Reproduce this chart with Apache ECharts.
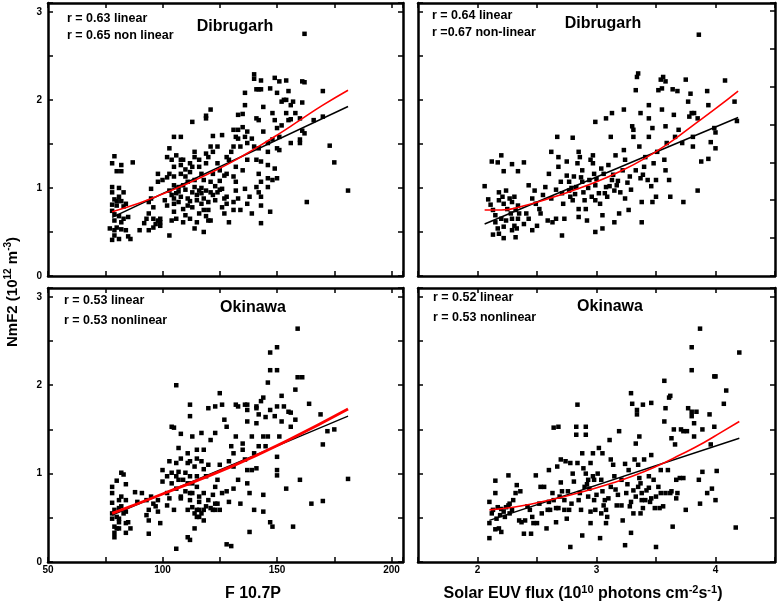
<!DOCTYPE html>
<html>
<head>
<meta charset="utf-8">
<script src="https://cdn.jsdelivr.net/npm/echarts@6/dist/echarts.min.js"></script>
<style>
  html, body { margin: 0; padding: 0; background: #fff; }
  #container { width: 778px; height: 607px; }
</style>
</head>
<body>
<div id="container"></div>
<script>
// ---- data ----
// Dibrugarh, NmF2 vs F10.7P
var dibF107 = [
  [79,1.36],[78,1.28],[82,1.26],[80,1.19],[82,1.19],[87,1.29],[78,1.01],[81,1.0],[83,0.95],[78,0.95],
  [79,0.87],[80,0.85],[81,0.9],[78,0.81],[80,0.8],[82,0.85],[83,0.79],[84,0.82],[78,0.74],[79,0.7],
  [81,0.68],[83,0.65],[85,0.67],[79,0.63],[82,0.61],[77,0.54],[79,0.52],[80,0.55],[82,0.53],[84,0.52],
  [79,0.46],[81,0.42],[85,0.45],[86,0.42],[78,0.41],
  [90,0.52],[92,0.6],[93,0.65],[94,0.71],[94,0.84],[95,0.88],[95,0.99],[96,0.78],[96,0.65],[97,0.59],
  [98,0.63],[99,0.61],[99,0.65],[99,0.57],[94,0.52],[96,0.55],[98,1.07],[100,1.09],[102,1.12],[98,1.16],[103,0.46],
  [102,1.35],[103,1.45],[105,1.58],[108,1.58],[104,1.32],[106,1.37],[108,1.32],[108,1.26],[105,1.24],[103,1.16],
  [105,1.13],[108,1.16],[110,1.13],[105,1.03],[107,1.01],[103,0.97],[104,0.92],[105,0.88],[108,0.9],[105,0.82],
  [107,0.84],[109,0.76],[105,0.73],[110,0.69],[104,0.63],[106,0.65],[109,0.61],[112,0.65],[111,0.88],[113,0.95],
  [111,1.07],[114,1.09],[112,1.18],[113,1.75],[112,1.28],[114,1.35],[114,1.41],[116,1.32],[116,1.24],[117,1.16],
  [118,1.09],[114,1.01],[116,0.97],[117,0.94],[119,0.97],[115,0.86],[117,0.82],[118,0.75],[116,0.71],[115,0.61],
  [114,0.54],[118,0.5],[120,0.63],[121,0.63],[120,0.75],[120,0.84],[122,0.92],[121,1.07],[122,1.16],[119,1.28],
  [120,1.35],[119,1.39],[122,1.41],[121,1.47],[122,1.59],[119,1.82],[119,1.79],[121,1.89],[124,1.47],[126,1.6],
  [124,1.28],[125,1.2],[127,1.14],[125,1.08],[126,0.99],[124,0.95],[127,0.88],[128,0.82],[126,0.78],[127,0.71],
  [129,0.61],[128,0.9],[128,1.16],[129,1.32],[128,1.35],[130,1.41],[131,1.47],[132,1.58],[131,1.66],[133,1.66],
  [133,1.56],[134,1.47],[132,1.24],[131,1.13],[132,1.07],[132,0.97],[133,0.88],[131,0.84],[134,0.75],[131,0.75],
  [135,1.69],[133,1.83],[135,1.84],[136,2.08],[136,1.94],[136,1.58],[137,1.64],[137,1.51],[137,1.32],[135,1.2],
  [136,0.99],[138,0.9],[137,0.82],[139,0.71],[139,1.56],[140,2.29],[140,2.24],[141,2.12],[142,2.12],[143,2.22],
  [141,1.79],[142,1.77],[144,1.92],[143,2.12],[140,1.47],[142,1.45],[141,1.32],[143,1.3],[142,1.16],[143,1.07],
  [141,1.01],[142,0.95],[143,0.9],[143,0.8],[143,0.6],[144,1.64],[146,1.51],[146,1.41],[146,1.26],[146,1.11],
  [146,1.01],[147,0.73],[147,2.13],[149,2.25],[150,2.08],[151,2.21],[148,1.85],[149,1.77],[150,1.68],[148,1.55],
  [151,1.58],[152,1.71],[150,1.45],[151,1.43],[149,1.22],[150,1.11],[148,1.09],[152,1.98],[153,2.0],[154,2.22],
  [154,2.0],[155,2.1],[154,1.85],[155,1.77],[156,1.78],[157,1.98],[156,1.94],[158,1.85],[160,1.79],[160,1.55],
  [160,1.51],[161,1.65],[156,1.51],[161,2.21],[162,2.2],[161,1.97],[162,1.62],[162,2.75],[163,0.84],[166,1.77],
  [170,2.1],[170,1.81],[173,1.48],[175,1.29],[181,0.97],
  [101,0.86],[102,0.8],[106,0.94],[107,0.96],[109,1.03],[110,0.98],[111,0.8],[112,0.85],[113,0.78],[115,0.92],
  [117,1.0],[118,0.88],[119,0.68],[121,0.95],[123,1.02],[123,0.86],[125,0.98],[110,1.21],[113,1.24],[109,1.32]
];
var dibF107Lin = [[78,0.665],[181,1.925]];
var dibF107Non = [[78,0.73],[90,0.83],[100,0.93],[110,1.04],[120,1.16],[130,1.29],[140,1.44],[150,1.6],[160,1.77],[170,1.94],[181,2.11]];

// Dibrugarh, NmF2 vs solar EUV flux
var dibEuv = [
  [2.06,1.02],[2.12,1.3],[2.2,1.37],[2.17,1.29],[2.22,1.19],[2.29,1.27],[2.34,1.19],[2.39,1.29],[2.09,0.87],[2.11,0.81],
  [2.13,0.75],[2.18,0.95],[2.21,0.9],[2.24,0.97],[2.18,0.86],[2.22,0.82],[2.27,0.88],[2.29,0.84],[2.31,0.9],[2.34,0.8],
  [2.25,0.76],[2.28,0.71],[2.32,0.75],[2.35,0.71],[2.15,0.69],[2.2,0.65],[2.24,0.63],[2.29,0.65],[2.34,0.65],[2.15,0.61],
  [2.17,0.54],[2.22,0.56],[2.31,0.57],[2.29,0.52],[2.33,0.54],[2.13,0.47],[2.18,0.48],[2.22,0.43],[2.32,0.44],[2.39,0.59],
  [2.43,0.65],[2.46,0.52],[2.41,0.71],[2.43,1.03],[2.48,0.97],[2.46,0.88],[2.49,0.82],[2.52,0.76],[2.5,0.57],[2.53,0.71],
  [2.55,0.92],[2.57,1.01],[2.59,0.63],[2.6,1.16],[2.62,1.41],[2.63,0.61],[2.66,0.65],[2.67,1.58],[2.68,1.35],[2.68,1.24],
  [2.7,1.07],[2.71,0.94],[2.71,0.46],[2.73,0.65],[2.75,1.3],[2.75,1.14],[2.77,1.07],[2.77,0.97],[2.78,0.9],[2.8,1.57],
  [2.8,0.86],[2.81,1.13],[2.83,1.01],[2.84,1.28],[2.85,1.41],[2.85,0.76],[2.85,0.67],[2.86,1.35],[2.88,1.2],[2.88,1.07],
  [2.89,0.95],[2.9,0.86],[2.91,0.76],[2.92,0.63],[2.94,1.09],[2.95,1.32],[2.97,1.37],[2.97,1.28],[2.98,1.16],[2.99,1.75],
  [2.99,1.03],[2.99,0.86],[2.99,0.5],[3.02,0.94],[3.03,0.82],[3.05,0.69],[3.05,0.54],[3.06,1.16],[3.08,1.79],[3.08,1.01],
  [3.09,0.9],[3.1,1.26],[3.12,1.58],[3.13,1.85],[3.13,1.09],[3.15,0.97],[3.15,0.61],[3.16,1.37],[3.17,1.03],[3.19,0.71],
  [3.22,1.2],[3.23,1.89],[3.23,1.43],[3.24,1.32],[3.24,0.88],[3.27,0.75],[3.28,1.13],[3.3,1.7],[3.31,1.66],[3.31,1.58],
  [3.33,2.11],[3.34,2.26],[3.35,2.3],[3.36,1.47],[3.37,1.85],[3.37,1.11],[3.38,0.84],[3.38,0.61],[3.4,1.24],[3.41,1.35],
  [3.43,1.09],[3.44,1.58],[3.44,1.94],[3.44,1.79],[3.47,1.68],[3.47,0.84],[3.48,1.28],[3.5,1.09],[3.5,0.9],[3.51,1.41],
  [3.52,2.11],[3.54,2.23],[3.55,2.13],[3.56,2.26],[3.58,2.21],[3.55,1.89],[3.58,1.7],[3.59,1.51],[3.57,1.32],[3.58,1.2],
  [3.61,1.09],[3.62,0.9],[3.64,2.12],[3.65,1.83],[3.66,1.58],[3.68,2.1],[3.69,1.66],[3.72,1.51],[3.73,0.84],[3.75,2.23],
  [3.77,1.98],[3.78,1.81],[3.79,2.07],[3.8,1.85],[3.81,1.58],[3.81,1.47],[3.82,1.85],[3.85,0.97],[3.85,1.79],[3.86,2.74],
  [3.88,1.3],[3.93,2.1],[3.94,1.94],[3.94,1.33],[3.96,1.52],[3.99,1.68],[4.0,1.63],[4.0,1.45],[4.08,2.22],[4.16,1.98],[4.18,1.76],
  [2.62,0.88],[2.66,0.98],[2.72,0.82],[2.79,1.0],[2.82,0.93],[2.87,1.12],[2.93,1.0],[2.96,0.9],[3.0,1.1],[3.04,1.22],
  [3.07,0.94],[3.11,1.02],[3.14,1.15],[3.18,1.08],[3.2,0.95],[3.26,1.06],[3.29,0.98],[3.33,1.2],[3.39,1.15],[3.46,1.02]
];
var dibEuvLin = [[2.06,0.59],[4.19,1.8]];
var dibEuvNon = [[2.06,0.75],[2.2,0.75],[2.4,0.8],[2.6,0.88],[2.8,0.97],[3.0,1.07],[3.2,1.19],[3.4,1.33],[3.6,1.5],[3.8,1.7],[4.0,1.9],[4.19,2.1]];

// Okinawa, NmF2 vs F10.7P
var okiF107 = [
  [78,0.85],[78,0.78],[80,0.92],[82,1.01],[83,0.99],[84,0.88],[78,0.67],[81,0.7],[82,0.74],[84,0.7],
  [79,0.59],[81,0.61],[82,0.63],[83,0.55],[80,0.51],[81,0.49],[84,0.57],[85,0.45],[79,0.4],[80,0.38],
  [81,0.38],[79,0.33],[79,0.28],[84,0.33],[86,0.38],[84,0.44],[78,0.55],[78,0.49],[81,0.45],
  [88,0.79],[89,0.68],[91,0.78],[93,0.7],[94,0.59],[93,0.53],[94,0.47],[94,0.32],[95,0.74],[96,0.66],
  [97,0.63],[98,0.57],[99,0.44],[98,0.7],[100,1.04],[100,0.91],[102,0.78],[102,0.64],[103,1.14],[104,1.01],
  [104,0.89],[104,1.53],[105,1.52],[106,0.15],[106,0.97],[106,0.83],[106,2.0],[106,1.12],[107,1.29],[107,1.02],
  [108,0.72],[108,1.45],[108,1.17],[109,0.93],[110,0.8],[110,1.01],[111,1.12],[111,1.23],[111,0.59],[111,0.28],
  [112,0.25],[112,1.65],[112,1.78],[113,1.42],[113,0.89],[113,0.78],[114,1.08],[114,0.55],[114,0.38],[115,1.27],
  [115,0.97],[115,0.85],[116,0.68],[116,0.51],[117,1.14],[117,1.46],[118,1.05],[118,1.27],[118,0.47],[119,0.97],
  [120,1.74],[120,0.7],[120,1.1],[121,1.38],[122,0.59],[122,0.76],[123,1.46],[123,0.85],[123,1.76],[124,0.66],
  [125,1.1],[125,1.91],[125,0.59],[126,1.78],[127,1.61],[128,0.8],[128,0.2],[128,1.53],[129,1.14],[129,0.68],
  [130,0.18],[130,1.31],[131,0.83],[131,1.23],[131,1.08],[132,1.42],[132,1.78],[133,1.76],[133,0.93],[134,0.66],
  [135,1.27],[135,1.34],[136,1.78],[136,1.16],[137,1.04],[137,1.78],[137,1.72],[137,0.89],[137,1.59],[138,0.78],
  [138,0.34],[139,1.42],[139,1.04],[140,1.23],[140,0.59],[141,1.74],[141,1.57],[141,1.06],[141,1.76],[142,1.67],
  [142,1.31],[143,1.82],[144,0.57],[144,0.76],[144,1.86],[144,1.42],[145,1.64],[145,1.31],[146,1.42],[146,2.03],
  [147,2.37],[147,2.17],[147,1.72],[147,0.45],[148,0.4],[149,1.65],[150,0.98],[150,2.43],[150,2.17],[150,1.76],
  [150,1.19],[150,1.04],[151,1.42],[152,1.59],[152,1.88],[153,1.76],[154,0.83],[155,1.7],[156,1.69],[156,1.53],
  [157,0.4],[158,1.95],[158,1.61],[159,2.09],[159,2.64],[160,0.93],[161,2.09],[164,1.79],[165,0.66],[169,1.67],
  [170,1.33],[170,0.69],[172,1.48],[175,1.5],[181,0.94],
  [102,0.97],[103,0.72],[105,0.59],[107,0.93],[108,0.74],[111,0.89],[112,0.78],[112,0.7],[113,0.62],[115,0.59],
  [115,0.51],[116,0.59],[117,0.55],[118,0.59],[116,0.74],[118,0.78],[119,0.63],[121,0.61],[123,0.66],[123,0.59],
  [124,0.93],[126,0.78],[112,0.97],[112,1.14],[115,1.17]
];
var okiF107Lin = [[78,0.53],[181,1.65]];
var okiF107Non = [[78,0.55],[100,0.77],[131,1.09],[155,1.38],[181,1.73]];

// Okinawa, NmF2 vs solar EUV flux
var okiEuv = [
  [2.1,0.68],[2.15,0.78],[2.15,0.92],[2.1,0.27],[2.12,0.55],[2.1,0.44],[2.13,0.59],[2.16,0.49],[2.18,0.38],[2.15,0.37],
  [2.19,0.53],[2.2,0.34],[2.22,0.57],[2.23,0.51],[2.26,0.98],[2.27,0.66],[2.27,0.55],[2.29,0.59],[2.3,0.7],[2.32,0.78],
  [2.33,0.87],[2.35,0.47],[2.36,0.8],[2.37,0.45],[2.39,0.32],[2.4,0.47],[2.42,0.63],[2.44,0.59],[2.45,0.32],[2.46,0.51],
  [2.47,0.44],[2.49,0.98],[2.5,0.44],[2.53,0.85],[2.54,0.55],[2.56,0.85],[2.58,0.38],[2.59,0.59],[2.6,0.68],[2.6,1.04],
  [2.61,0.59],[2.63,0.78],[2.64,1.52],[2.66,0.61],[2.66,0.45],[2.67,1.08],[2.68,1.53],[2.68,0.61],[2.7,1.16],[2.7,0.9],
  [2.71,0.8],[2.73,0.7],[2.73,0.59],[2.74,1.14],[2.75,0.49],[2.76,0.8],[2.77,0.59],[2.78,0.17],[2.78,1.12],[2.8,1.0],
  [2.81,0.91],[2.83,1.44],[2.83,1.53],[2.84,1.12],[2.84,1.78],[2.85,0.7],[2.87,0.59],[2.88,0.3],[2.88,1.23],[2.89,1.06],
  [2.9,0.85],[2.91,1.53],[2.91,1.44],[2.91,1.0],[2.93,0.93],[2.93,0.74],[2.94,0.83],[2.95,0.57],[2.95,1.12],[2.95,0.44],
  [2.97,0.97],[2.97,1.23],[2.98,0.93],[2.98,0.7],[2.99,0.59],[3.01,1.0],[3.02,1.29],[3.03,0.27],[3.04,0.93],[3.04,0.55],
  [3.05,1.23],[3.05,0.8],[3.07,0.7],[3.08,0.44],[3.08,0.59],[3.09,0.51],[3.11,1.38],[3.12,1.16],[3.12,0.85],[3.14,1.1],
  [3.15,0.97],[3.17,0.64],[3.18,0.76],[3.19,1.48],[3.21,0.93],[3.21,0.64],[3.22,0.47],[3.24,1.11],[3.24,0.19],[3.25,0.78],
  [3.27,1.04],[3.28,0.63],[3.29,1.91],[3.29,0.33],[3.29,0.68],[3.3,1.79],[3.31,0.81],[3.31,0.55],[3.32,1.16],[3.33,1.34],
  [3.34,1.72],[3.34,1.67],[3.35,1.1],[3.35,0.85],[3.36,1.42],[3.37,0.89],[3.37,0.55],[3.38,0.78],[3.38,0.7],[3.39,1.78],
  [3.39,0.61],[3.4,1.16],[3.42,0.81],[3.44,0.97],[3.45,0.68],[3.46,1.8],[3.46,1.21],[3.46,0.72],[3.48,0.93],[3.49,0.61],
  [3.5,0.17],[3.52,0.85],[3.53,0.61],[3.54,1.04],[3.54,0.78],[3.56,0.63],[3.57,2.05],[3.57,1.59],[3.58,1.74],[3.58,0.78],
  [3.6,1.04],[3.61,1.86],[3.62,1.88],[3.62,0.78],[3.63,1.4],[3.63,0.8],[3.64,0.4],[3.65,1.5],[3.66,1.33],[3.67,0.93],
  [3.67,0.72],[3.68,0.78],[3.7,0.95],[3.71,1.5],[3.73,1.48],[3.73,0.95],[3.75,0.59],[3.76,1.48],[3.77,1.74],[3.8,2.43],
  [3.8,2.17],[3.8,1.7],[3.8,1.65],[3.82,1.57],[3.82,1.42],[3.84,1.7],[3.86,0.93],[3.87,2.64],[3.87,0.66],[3.89,1.5],
  [3.89,1.02],[3.93,0.78],[3.95,1.67],[3.96,1.33],[3.97,0.83],[3.99,2.1],[4.0,2.1],[3.99,1.53],[4.0,0.7],[4.01,1.03],
  [4.07,1.79],[4.09,1.94],[4.17,0.39],[4.2,2.37],
  [2.17,0.62],[2.2,0.6],[2.24,0.62],[2.26,0.64],[2.52,0.66],[2.64,0.7],[2.69,0.74],[2.79,0.66],[2.86,0.78],[2.92,0.88],
  [3.0,0.76],[3.06,0.64],[3.1,0.72],[3.16,0.82],[3.26,0.88],[3.33,0.74],[3.36,0.95],[3.41,0.7],[3.44,0.84],[3.5,0.74]
];
var okiEuvLin = [[2.1,0.47],[4.2,1.4]];
var okiEuvNon = [[2.1,0.59],[2.3,0.62],[2.5,0.67],[2.7,0.73],[2.9,0.8],[3.1,0.88],[3.3,0.97],[3.5,1.08],[3.7,1.21],[3.9,1.35],[4.05,1.47],[4.2,1.59]];

// tick setup
var yMin = 0, yMax = 3.1, yStep = 0.5;
var fMin = 50, fMax = 205, fStep = 25;
var eMin = 1.5, eMax = 4.5, eStep = 0.5;

var FONT = "'Liberation Sans', Arial, Helvetica, sans-serif";

var dom = document.getElementById("container");
var myChart = echarts.init(dom, null, { renderer: 'canvas' });

function everyLabel(every, max) {
    return function (v) {
        var k = v / every;
        if (Math.abs(k - Math.round(k)) < 1e-6 && v < max - 1e-6) return String(Math.round(v));
        return '';
    };
}

function makeAxis(kind, grid, min, max, step, position, labelEvery) {
    return {
        type: 'value',
        gridIndex: grid,
        position: position,
        min: min,
        max: max,
        interval: step,
        splitLine: { show: false },
        axisLine: { show: true, onZero: false, lineStyle: { color: '#000', width: 2.5 } },
        axisTick: { show: true, inside: true, length: 5, lineStyle: { color: '#000', width: 1.5 } },
        axisLabel: {
            show: !!labelEvery,
            formatter: labelEvery ? everyLabel(labelEvery, max) : '',
            color: '#000',
            fontFamily: FONT,
            fontWeight: 'bold',
            fontSize: 10,
            margin: kind === 'x' ? 3 : 6
        }
    };
}

var grids = [
    { left: 48, top: 3, width: 355, height: 273 },
    { left: 418, top: 3, width: 357, height: 273 },
    { left: 48, top: 288, width: 355, height: 274 },
    { left: 418, top: 288, width: 357, height: 274 }
];

var xAxes = [
    makeAxis('x', 0, fMin, fMax, fStep, 'bottom', 0),
    makeAxis('x', 1, eMin, eMax, eStep, 'bottom', 0),
    makeAxis('x', 2, fMin, fMax, fStep, 'bottom', 50),
    makeAxis('x', 3, eMin, eMax, eStep, 'bottom', 1),
    makeAxis('x', 0, fMin, fMax, fStep, 'top', 0),
    makeAxis('x', 1, eMin, eMax, eStep, 'top', 0),
    makeAxis('x', 2, fMin, fMax, fStep, 'top', 0),
    makeAxis('x', 3, eMin, eMax, eStep, 'top', 0)
];
var yAxes = [
    makeAxis('y', 0, yMin, yMax, yStep, 'left', 1),
    makeAxis('y', 1, yMin, yMax, yStep, 'left', 0),
    makeAxis('y', 2, yMin, yMax, yStep, 'left', 1),
    makeAxis('y', 3, yMin, yMax, yStep, 'left', 0),
    makeAxis('y', 0, yMin, yMax, yStep, 'right', 0),
    makeAxis('y', 1, 0, 7.2, 1, 'right', 0),   // this panel's right frame has its own tick spacing
    makeAxis('y', 2, yMin, yMax, yStep, 'right', 0),
    makeAxis('y', 3, yMin, yMax, yStep, 'right', 0)
];

function dots(idx, data) {
    return {
        type: 'scatter', xAxisIndex: idx, yAxisIndex: idx, data: data,
        symbol: 'rect', symbolSize: 4.5, itemStyle: { color: '#000', opacity: 1 }, silent: true, z: 2
    };
}
function fit(idx, data, color, width, smooth) {
    return {
        type: 'line', xAxisIndex: idx, yAxisIndex: idx, data: data, smooth: smooth,
        showSymbol: false, lineStyle: { color: color, width: width }, silent: true, z: 3
    };
}

var series = [
    dots(0, dibF107), fit(0, dibF107Lin, '#000', 1.5, false), fit(0, dibF107Non, '#ff0000', 1.6, true),
    dots(1, dibEuv), fit(1, dibEuvLin, '#000', 1.5, false), fit(1, dibEuvNon, '#ff0000', 1.6, true),
    dots(2, okiF107), fit(2, okiF107Lin, '#000', 1.2, false), fit(2, okiF107Non, '#ff0000', 2.8, true),
    dots(3, okiEuv), fit(3, okiEuvLin, '#000', 1.4, false), fit(3, okiEuvNon, '#ff0000', 1.6, true)
];

function txt(x, y, s, size, align) {
    return {
        type: 'text', x: x, y: y, z: 10,
        style: { text: s, fill: '#000', font: 'bold ' + size + 'px ' + FONT, align: align || 'left', verticalAlign: 'middle' }
    };
}

var supRich = {
    a: { fontFamily: FONT, fontWeight: 'bold', fontSize: 16, lineHeight: 20, fill: '#000', color: '#000' },
    s: { fontFamily: FONT, fontWeight: 'bold', fontSize: 11, lineHeight: 9, verticalAlign: 'top', fill: '#000', color: '#000' }
};
var supRichY = {
    a: { fontFamily: FONT, fontWeight: 'bold', fontSize: 15, lineHeight: 19, fill: '#000', color: '#000' },
    s: { fontFamily: FONT, fontWeight: 'bold', fontSize: 10, lineHeight: 8, verticalAlign: 'top', fill: '#000', color: '#000' }
};

var graphics = [
    txt(67, 19, 'r = 0.63 linear', 12.5), txt(67, 36, 'r = 0.65 non linear', 12.5), txt(235, 27, 'Dibrugarh', 16, 'center'),
    txt(432, 16, 'r = 0.64 linear', 12.5), txt(432, 33, 'r =0.67 non-linear', 12.5), txt(603, 24, 'Dibrugarh', 16, 'center'),
    txt(64, 301, 'r = 0.53 linear', 12.5), txt(64, 321, 'r = 0.53 nonlinear', 12.5), txt(253, 308, 'Okinawa', 16, 'center'),
    txt(433, 298, 'r = 0.52 linear', 12.5), txt(433, 318, 'r = 0.53 nonlinear', 12.5), txt(610, 307, 'Okinawa', 16, 'center'),
    txt(253, 594, 'F 10.7P', 16, 'center'),
    {
        type: 'text', x: 583, y: 594, z: 10,
        style: {
            text: '{a|Solar EUV flux (10}{s|10}{a| photons cm}{s|-2}{a|s}{s|-1}{a|)}',
            rich: supRich, align: 'center', verticalAlign: 'middle'
        }
    },
    {
        type: 'text', x: 13, y: 292, z: 10, rotation: Math.PI / 2,
        style: {
            text: '{a|NmF2 (10}{s|12}{a| m}{s|-3}{a|)}',
            rich: supRichY, align: 'center', verticalAlign: 'middle'
        }
    }
];

var option = {
    backgroundColor: '#fff',
    animation: false,
    grid: grids,
    xAxis: xAxes,
    yAxis: yAxes,
    series: series,
    graphic: graphics
};
myChart.setOption(option, true);
window.onresize = myChart.resize;
</script>
</body>
</html>
